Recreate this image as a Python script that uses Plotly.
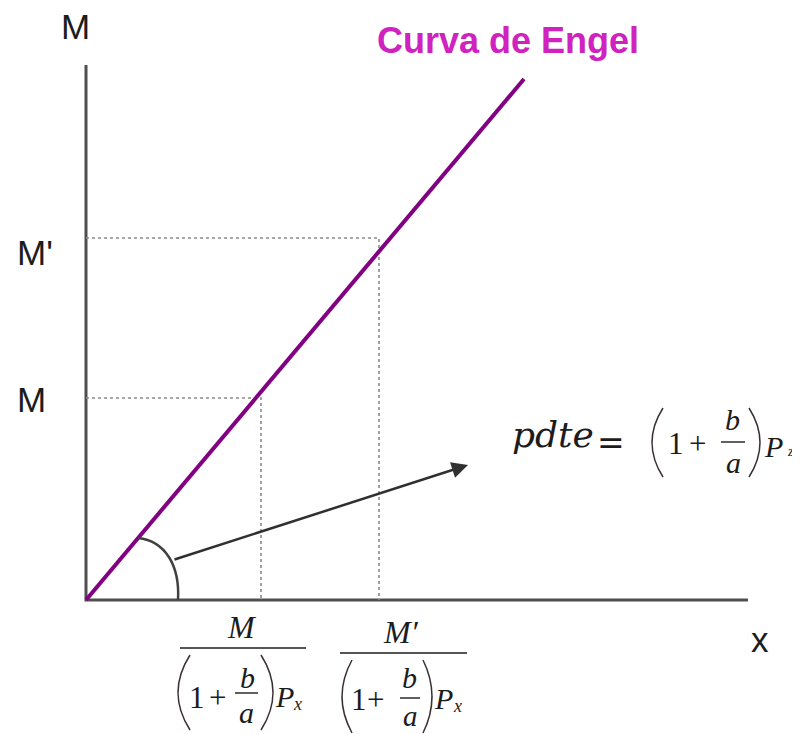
import plotly.graph_objects as go

# ---------------- data (chart units; origin at the axes' corner) ----------------
engel_x = [0, 438]            # Curva de Engel: straight line through the origin
engel_y = [0, 521]
income_levels = [202, 362]    # M, M'
income_labels = ["M", "M'"]
demand_x = [175, 293]         # M/((1+b/a)Px), M'/((1+b/a)Px)
axis_x_end = 662
axis_y_end = 535
curve_label = "Curva de Engel"
x_label = "x"
y_label = "M"

# ---------------- styles ----------------
SANS = "Liberation Sans, Arial, sans-serif"
SERIF = "Liberation Serif, Times New Roman, serif"
DSERIF = "DejaVu Serif, serif"
INK = "#1c1c1c"
AXIS = "#4f4f4f"
GUIDE = "#8a8a8a"
PURPLE = "#820082"
MAGENTA = "#cf22bf"

fig = go.Figure()

# axes
fig.add_trace(go.Scatter(x=[0, 0, axis_x_end], y=[axis_y_end, 0, 0], mode="lines",
                         line=dict(color=AXIS, width=3), hoverinfo="skip"))

# dotted guides
for lvl, dx in zip(income_levels, demand_x):
    fig.add_trace(go.Scatter(x=[0, dx, dx], y=[lvl, lvl, 0], mode="lines",
                             line=dict(color=GUIDE, width=1.6, dash="dot"), hoverinfo="skip"))

# Engel curve
fig.add_trace(go.Scatter(x=engel_x, y=engel_y, mode="lines",
                         line=dict(color=PURPLE, width=4), hoverinfo="skip"))

shapes = []
ann = []

def txt(x, y, s, size, family, color=INK, italic=False, bold=False):
    t = s
    if bold:
        t = "<b>" + t + "</b>"
    if italic:
        t = "<i>" + t + "</i>"
    ann.append(dict(x=x, y=y, xref="x", yref="y", text=t, showarrow=False,
                    xanchor="center", yanchor="middle",
                    font=dict(size=size, family=family, color=color)))

def hline(x0, x1, y, w=1.6):
    shapes.append(dict(type="line", xref="x", yref="y", x0=x0, x1=x1, y0=y, y1=y,
                       line=dict(color=INK, width=w)))

def paren(x, ctrl, ytop, ybot):
    ym = (ytop + ybot) / 2
    shapes.append(dict(type="path", xref="x", yref="y",
                       path=f"M {x},{ytop} Q {ctrl},{ym} {x},{ybot}",
                       line=dict(color="#3a3030", width=1.5)))

# arc marking the slope angle
shapes.append(dict(type="path", xref="x", yref="y",
                   path="M 52,62 C 79,59 94,35 92,0",
                   line=dict(color="#404040", width=2.5)))

# axis / level labels
txt(-11, 574, y_label, 35, SANS)
txt(-51, 348, income_labels[1], 35, SANS)
txt(-55, 201, income_labels[0], 35, SANS)
txt(674, -39, x_label, 35, SANS)
txt(422, 560, curve_label, 36, SANS, color=MAGENTA, bold=True)

# fraction 1 : M / ((1+b/a)Px)
txt(156, -27, "M", 32, SERIF, italic=True)
hline(94, 220, -48)
paren(104, 80, -55, -130)
txt(111, -97, "1", 31, SERIF)
txt(131, -97, "+", 31, SERIF)
txt(161, -77, "b", 30, SERIF, italic=True)
hline(149, 172, -93, 1.4)
txt(160, -112, "a", 30, SERIF, italic=True)
paren(175, 199, -55, -130)
txt(198, -96, "P", 30, SERIF, italic=True)
txt(211, -104, "x", 18, SERIF, italic=True)

# fraction 2 : M' / ((1+b/a)Px)
txt(315, -32, "M′", 32, SERIF, italic=True)
hline(254, 381, -53)
paren(266, 246, -60, -133)
txt(273, -99, "1", 31, SERIF)
txt(289, -99, "+", 31, SERIF)
txt(323, -77, "b", 30, SERIF, italic=True)
hline(314, 334, -98, 1.4)
txt(324, -116, "a", 29, SERIF, italic=True)
paren(337, 355, -60, -133)
txt(357, -98, "P", 30, SERIF, italic=True)
txt(371, -106, "x", 18, SERIF, italic=True)

# slope expression
txt(467, 166, "pdte", 36, DSERIF, italic=True)
txt(525, 158, "=", 33, DSERIF)
paren(577, 555, 192, 123)
txt(590, 157, "1", 31, SERIF)
txt(611, 157, "+", 31, SERIF)
txt(646, 181, "b", 30, SERIF, italic=True)
hline(635, 659, 158, 1.4)
txt(647, 138, "a", 30, SERIF, italic=True)
paren(663, 685, 192, 123)
txt(687, 154, "P", 30, SERIF, italic=True)
txt(704, 149, "z", 14, SERIF, italic=True)

# arrow from the angle to the expression
ann.append(dict(x=382, y=135, ax=87, ay=40, xref="x", yref="y", axref="x", ayref="y",
                text="", showarrow=True, arrowhead=2, arrowsize=1.3, arrowwidth=2.5,
                arrowcolor="#303030", standoff=0, startstandoff=0))

# the page body adds an 8px offset; ranges compensate so the chart sits where the reference has it
fig.update_layout(
    width=800, height=734,
    margin=dict(l=0, r=0, t=0, b=0),
    paper_bgcolor="white", plot_bgcolor="white",
    showlegend=False,
    xaxis=dict(range=[-78, 722], visible=False, fixedrange=True),
    yaxis=dict(range=[-142, 592], visible=False, fixedrange=True),
    shapes=shapes, annotations=ann,
)

fig.write_html("out.html")
